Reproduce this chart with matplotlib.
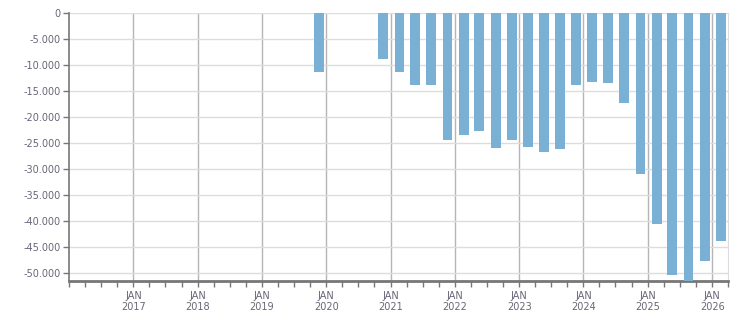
"""Quarterly bar chart of negative values, 2016-2026."""

import matplotlib

matplotlib.use("Agg")
import matplotlib.dates as mdates
import matplotlib.pyplot as plt
import pandas as pd
from matplotlib.ticker import FuncFormatter

periods = [
    "2019-11", "2020-11", "2021-02", "2021-05", "2021-08", "2021-11",
    "2022-02", "2022-05", "2022-08", "2022-11", "2023-02", "2023-05",
    "2023-08", "2023-11", "2024-02", "2024-05", "2024-08", "2024-11",
    "2025-02", "2025-05", "2025-08", "2025-11", "2026-02",
]
values = [
    -11220, -8720, -11410, -13910, -13910, -24510,
    -23550, -22780, -25880, -24330, -25690, -26660,
    -26080, -13730, -13230, -13420, -17345, -30930,
    -40630, -50480, -51600, -47800, -43920,
]
year_ticks = list(range(2017, 2027))

BAR_COLOR = "#79b0d3"
TEXT_COLOR = "#666677"
AXIS_COLOR = "#777777"

dates = pd.to_datetime(periods) + pd.Timedelta(days=19)

fig = plt.figure(figsize=(7.51, 3.13), dpi=100)
ax = fig.add_axes([69 / 751, 1 - 281 / 313, (728 - 69) / 751, (281 - 13.3) / 313])

ax.bar(dates, values, width=56, color=BAR_COLOR, zorder=3)

ax.set_xlim(pd.Timestamp("2016-01-01"), pd.Timestamp("2026-04-01"))
ax.set_ylim(min(values), 0)

ax.set_yticks(range(0, -50001, -5000))
ax.yaxis.set_major_formatter(
    FuncFormatter(lambda v, _: f"{v:,.0f}".replace(",", "."))
)
major = [pd.Timestamp(f"{y}-01-01") for y in year_ticks]
ax.set_xticks(major)
ax.set_xticklabels([f"JAN\n{y}" for y in year_ticks])
ax.xaxis.set_minor_locator(mdates.MonthLocator(bymonth=[1, 4, 7, 10]))

ax.grid(axis="y", color="#dddddd", linewidth=1, zorder=0)
ax.grid(axis="x", which="major", color="#b5b5b5", linewidth=1, zorder=0)

for side in ("top",):
    ax.spines[side].set_visible(False)
ax.spines["right"].set_color("#dddddd")
ax.spines["left"].set_color(AXIS_COLOR)
ax.spines["left"].set_linewidth(1.2)
ax.spines["bottom"].set_color(AXIS_COLOR)
ax.spines["bottom"].set_linewidth(2)

ax.tick_params(axis="y", length=4, width=1, color=AXIS_COLOR,
               labelsize=7, labelcolor=TEXT_COLOR, pad=2)
ax.tick_params(axis="x", which="both", length=4, width=1, color=AXIS_COLOR,
               labelsize=7, labelcolor=TEXT_COLOR, pad=3)

fig.savefig("out.png", dpi=100)
plt.close(fig)
